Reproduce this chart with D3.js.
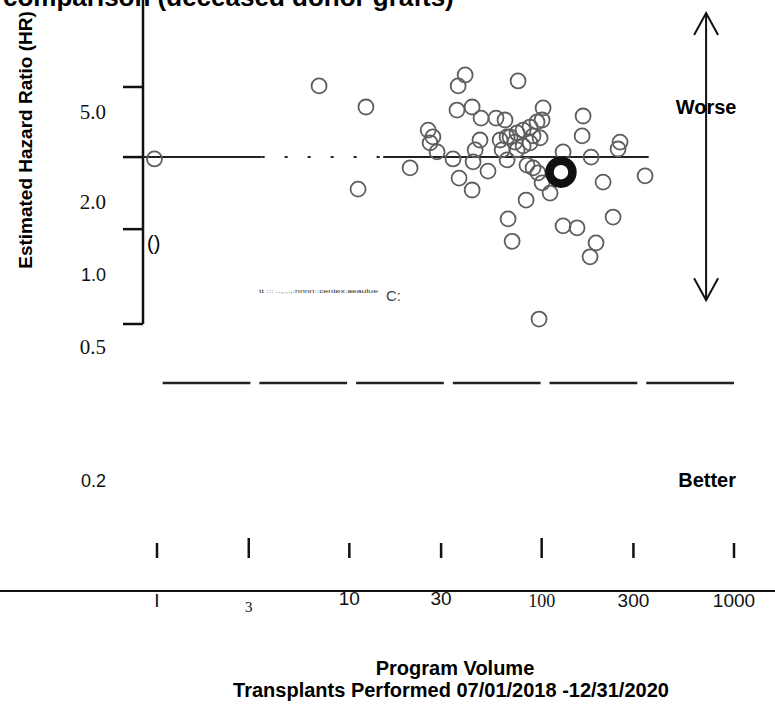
<!DOCTYPE html>
<html>
<head>
<meta charset="utf-8">
<script src="https://cdn.jsdelivr.net/npm/d3@7"></script>
<style>
  html, body { margin: 0; padding: 0; background: #fff; }
  svg { display: block; }
</style>
</head>
<body>
<svg id="chart" width="775" height="704"></svg>
<script>
// ---------- data ----------
const titleText = "comparison (deceased donor grafts)";
const yAxisTitle = "Estimated Hazard Ratio (HR)";
const xTitle1 = "Program Volume";
const xTitle2 = "Transplants Performed 07/01/2018 -12/31/2020";

const xTickValues = [1, 3, 10, 30, 100, 300, 1000];
const xTickLabels = ["I", "3", "10", "30", "100", "300", "1000"];
const xTickSerif  = [false, true, false, false, true, false, false];

const yLabelValues = [5, 2, 1, 0.5, 0.2];
const yLabelTexts  = ["5.0", "2.0", "1.0", "0.5", "0.2"];
const yLabelSerif  = [true, true, false, true, false];
const yAxisTickValues = [6.45, 3.16, 1.54, 0.622];

// program volume (transplants) and estimated hazard ratio for each program
const programVolume = [
  0.97, 6.96, 12.2, 11.1, 96.9,
  40.0, 36.8, 75.4, 36.3, 43.5, 48.4, 57.9, 64.5, 101.7, 100.5,
  25.7, 27.2, 26.3, 28.6, 47.8, 45.1, 60.8, 68.5, 74.5, 80.1,
  87.0, 94.6, 98.1, 164.2, 162.3, 255.6, 249.6, 20.7, 34.6, 44.0,
  52.6, 62.3, 66.1, 74.5, 80.1, 87.0, 129.2, 180.7, 37.2, 43.5,
  83.9, 90.2, 95.8, 100.5, 110.6, 208.6, 344.9, 83.0, 66.9, 70.2,
  129.2, 152.8, 235.1, 191.8, 178.5, 66.1, 72.7, 90.2
];
const hazardRatio = [
  3.10, 6.52, 5.26, 2.28, 0.652,
  7.29, 6.52, 6.86, 5.10, 5.26, 4.70, 4.70, 4.61, 5.21, 4.61,
  4.16, 3.88, 3.65, 3.33, 3.76, 3.40, 3.76, 3.88, 4.04, 4.16,
  4.29, 4.52, 3.84, 4.80, 3.92, 3.68, 3.43, 2.83, 3.10, 3.01,
  2.74, 3.40, 3.07, 3.40, 3.54, 3.65, 3.33, 3.16, 2.55, 2.26,
  2.91, 2.83, 2.69, 2.43, 2.19, 2.45, 2.61, 2.04, 1.70, 1.37,
  1.59, 1.56, 1.73, 1.35, 1.18, 3.88, 3.68, 3.92
];
const focalVolume = 126;
const focalHR = 2.71;

const refHR = 3.16;
const refSolidLeft  = [0.87, 3.5];
const refDotted     = [3.5, 15];
const refSolidRight = [15, 360];

const lowerDashHR = 0.39;
const lowerDashRange = [1.07, 1000];

const arrowVolume = 716;
const arrowHR = [13.7, 0.78];

const noiseText = "tt ::: ..,.,.,:nnnn::centex:aeaulue";

// ---------- layout ----------
const svg = d3.select("#chart");
const x = d3.scaleLog().domain([1, 1000]).range([157, 734]);
const y = d3.scaleLog().domain([0.2, 0.5, 1, 2, 5]).range([480, 347, 274, 202, 112]);
const axisX = 143;
const axisBottomY = 324;
const xAxisY = 591;
const SANS = "'Liberation Sans', Arial, sans-serif";
const SERIF = "'Liberation Serif', 'Times New Roman', serif";

// title (cut off at the top)
svg.append("text").attr("x", 3).attr("y", 6)
  .attr("font-family", SANS).attr("font-weight", "bold").attr("font-size", 26)
  .attr("fill", "#000").text(titleText);

// y axis title
svg.append("text")
  .attr("transform", "translate(32,140) rotate(-90)")
  .attr("text-anchor", "middle")
  .attr("font-family", SANS).attr("font-weight", "bold").attr("font-size", 19)
  .text(yAxisTitle);

// y axis line and ticks
svg.append("line").attr("x1", axisX).attr("x2", axisX).attr("y1", 0).attr("y2", axisBottomY)
  .attr("stroke", "#111").attr("stroke-width", 2.5);
svg.selectAll(".ytick").data(yAxisTickValues).join("line")
  .attr("x1", axisX - 20).attr("x2", axisX)
  .attr("y1", d => y(d)).attr("y2", d => y(d))
  .attr("stroke", "#111").attr("stroke-width", 2.5);

// y labels
svg.selectAll(".ylab").data(yLabelValues).join("text")
  .attr("x", 106).attr("y", d => y(d) + 7)
  .attr("text-anchor", "end")
  .attr("font-family", (d, i) => yLabelSerif[i] ? SERIF : SANS)
  .attr("font-size", (d, i) => yLabelSerif[i] ? 21 : 18)
  .attr("fill", "#111")
  .text((d, i) => yLabelTexts[i]);

// small bracket glyph next to the axis
svg.append("text").attr("x", 147).attr("y", y(1.54) + 21)
  .attr("font-family", SANS).attr("font-size", 20).text("()");

// reference line (national)
function hline(range, hr, dash, w) {
  svg.append("line")
    .attr("x1", range[0] < 0.9 ? axisX : x(range[0])).attr("x2", x(range[1]))
    .attr("y1", y(hr)).attr("y2", y(hr))
    .attr("stroke", "#222").attr("stroke-width", w)
    .attr("stroke-dasharray", dash);
}
hline(refSolidLeft, refHR, null, 2);
hline(refDotted, refHR, "3,20", 2);
hline(refSolidRight, refHR, null, 2);

// lower dashed line
const dashLen = (x(lowerDashRange[1]) - x(lowerDashRange[0]) - 5 * 9) / 6;
svg.append("line")
  .attr("x1", x(lowerDashRange[0])).attr("x2", x(lowerDashRange[1]))
  .attr("y1", y(lowerDashHR)).attr("y2", y(lowerDashHR))
  .attr("stroke", "#222").attr("stroke-width", 2.5)
  .attr("stroke-dasharray", `${dashLen},9`);

// noise text
svg.append("text").attr("x", 259).attr("y", 293)
  .attr("font-family", SANS).attr("font-size", 6).attr("fill", "#333")
  .attr("textLength", 119).attr("lengthAdjust", "spacingAndGlyphs").text(noiseText);
svg.append("text").attr("x", 386).attr("y", 301)
  .attr("font-family", SANS).attr("font-size", 15).attr("fill", "#444").text("C:");

// program points
const pts = programVolume.map((v, i) => ({v, hr: hazardRatio[i]}));
svg.selectAll(".pt").data(pts).join("circle")
  .attr("cx", d => x(d.v)).attr("cy", d => y(d.hr)).attr("r", 7.5)
  .attr("fill", "none").attr("stroke", "#5e5e5e").attr("stroke-width", 1.8);

// focal program
svg.append("circle").attr("cx", x(focalVolume)).attr("cy", y(focalHR)).attr("r", 11.5)
  .attr("fill", "none").attr("stroke", "#111").attr("stroke-width", 8.5);

// worse / better arrow
const ax = x(arrowVolume);
const yTop = y(arrowHR[0]), yBot = y(arrowHR[1]);
svg.append("line").attr("x1", ax).attr("x2", ax).attr("y1", yTop).attr("y2", yBot)
  .attr("stroke", "#111").attr("stroke-width", 2);
svg.append("path")
  .attr("d", `M${ax-12},${yTop+22}L${ax},${yTop}L${ax+12},${yTop+22}`)
  .attr("fill", "none").attr("stroke", "#111").attr("stroke-width", 2);
svg.append("path")
  .attr("d", `M${ax-12},${yBot-22}L${ax},${yBot}L${ax+12},${yBot-22}`)
  .attr("fill", "none").attr("stroke", "#111").attr("stroke-width", 2);
svg.append("text").attr("x", ax).attr("y", y(5) + 2).attr("text-anchor", "middle")
  .attr("font-family", SANS).attr("font-weight", "bold").attr("font-size", 20).text("Worse");
svg.append("text").attr("x", ax + 1).attr("y", y(0.2) + 7).attr("text-anchor", "middle")
  .attr("font-family", SANS).attr("font-weight", "bold").attr("font-size", 20).text("Better");

// x axis
svg.append("line").attr("x1", 0).attr("x2", 775).attr("y1", xAxisY).attr("y2", xAxisY)
  .attr("stroke", "#111").attr("stroke-width", 2.2);
svg.selectAll(".xtick").data(xTickValues).join("line")
  .attr("x1", d => x(d)).attr("x2", d => x(d))
  .attr("y1", (d, i) => (i === 1 || i === 4) ? xAxisY - 53 : xAxisY - 48)
  .attr("y2", xAxisY - 33)
  .attr("stroke", "#111").attr("stroke-width", 2.5);
svg.selectAll(".xlab").data(xTickValues).join("text")
  .attr("x", d => x(d)).attr("y", (d, i) => i === 1 ? xAxisY + 21 : (i === 2 || i === 3 ? xAxisY + 14 : xAxisY + 16))
  .attr("text-anchor", "middle")
  .attr("font-family", (d, i) => xTickSerif[i] ? SERIF : SANS)
  .attr("font-size", (d, i) => i === 1 ? 15 : (xTickSerif[i] ? 18 : 19))
  .attr("fill", "#111")
  .text((d, i) => xTickLabels[i]);

// x titles
svg.append("text").attr("x", 455).attr("y", 675).attr("text-anchor", "middle")
  .attr("font-family", SANS).attr("font-weight", "bold").attr("font-size", 20).text(xTitle1);
svg.append("text").attr("x", 451).attr("y", 697).attr("text-anchor", "middle")
  .attr("font-family", SANS).attr("font-weight", "bold").attr("font-size", 20).text(xTitle2);
</script>
</body>
</html>
